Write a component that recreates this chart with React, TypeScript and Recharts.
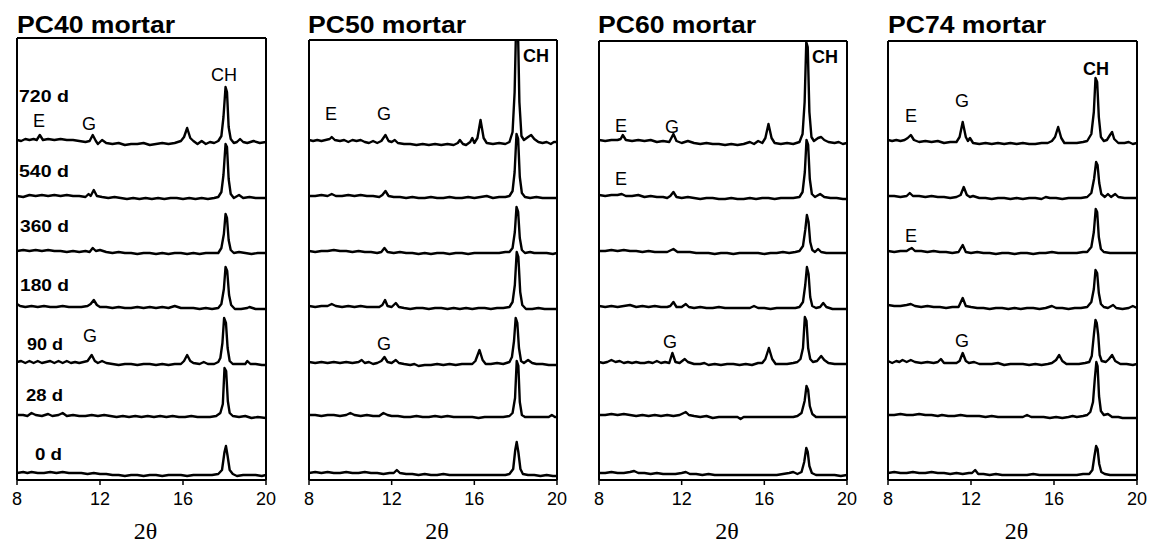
import { LineChart, Line, XAxis, YAxis } from 'recharts';

type Pt = [number, number];

// curing ages, bottom trace first
const ages = ['0 d', '28 d', '90 d', '180 d', '360 d', '540 d', '720 d'];
// vertical stacking of the patterns (intensity units)
const offsets = [0, 58, 111, 167, 222, 277, 332];
const xTicks = [8, 12, 16, 20];

// ---- PC40 ----
const pc40_720: Pt[] = [[8,2],[8.2,1],[8.4,3],[8.6,2],[8.8,3],[8.95,2],[9.1,7],[9.25,2],[9.5,3],[9.8,2],[10.1,3],[10.4,2],[10.7,2],[11,1],[11.3,0],[11.5,1],[11.65,7],[11.8,1],[11.9,-2],[12.1,2],[12.3,-1],[12.6,-2],[12.9,-1],[13.2,-3],[13.5,-2],[13.8,-2],[14.1,-1],[14.4,-3],[14.7,-2],[15,-1],[15.3,-2],[15.6,-1],[15.9,1],[16.05,5],[16.2,14],[16.35,4],[16.5,1],[16.7,-2],[16.9,1],[17.1,-2],[17.3,0],[17.5,-1],[17.7,1],[17.85,6],[17.95,25],[18.05,55],[18.12,50],[18.2,15],[18.3,3],[18.45,-1],[18.6,0],[18.75,3],[18.9,0],[19.1,-1],[19.4,1],[19.7,-1],[20,0]];
const pc40_540: Pt[] = [[8,1],[8.3,0],[8.6,2],[8.9,1],[9.2,2],[9.5,1],[9.8,2],[10.1,1],[10.4,2],[10.7,1],[11,1],[11.3,0],[11.45,3],[11.55,1],[11.7,7],[11.85,1],[12.1,0],[12.4,-1],[12.7,0],[13,-1],[13.3,-2],[13.6,-1],[13.9,-2],[14.2,-1],[14.5,-2],[14.8,-1],[15.1,-2],[15.4,-1],[15.7,-1],[16,-2],[16.3,-1],[16.6,-2],[16.9,-1],[17.2,-2],[17.5,-1],[17.7,0],[17.85,5],[17.95,22],[18.05,53],[18.12,50],[18.2,18],[18.3,3],[18.45,-1],[18.7,2],[18.9,-1],[19.2,0],[19.5,-1],[19.8,-1],[20,-1]];
const pc40_360: Pt[] = [[8,1],[8.3,2],[8.6,1],[8.9,2],[9.2,1],[9.5,2],[9.8,1],[10.1,1],[10.4,0],[10.7,1],[11,0],[11.3,1],[11.5,0],[11.65,4],[11.8,1],[12,2],[12.3,0],[12.6,-1],[12.9,0],[13.2,-1],[13.5,-1],[13.8,-2],[14.1,-1],[14.4,-1],[14.7,-2],[15,-1],[15.3,-2],[15.6,-1],[15.9,-1],[16.2,-2],[16.5,-1],[16.8,-2],[17.1,-1],[17.4,-1],[17.7,-1],[17.85,4],[17.97,18],[18.05,38],[18.12,34],[18.2,12],[18.3,2],[18.45,-1],[18.7,0],[19,-1],[19.3,-2],[19.6,-1],[20,-1]];
const pc40_180: Pt[] = [[8,3],[8.15,1],[8.4,0],[8.7,1],[9,0],[9.3,1],[9.6,0],[9.9,0],[10.2,1],[10.5,0],[10.8,0],[11.1,0],[11.4,1],[11.55,3],[11.7,7],[11.85,2],[12,0],[12.3,0],[12.6,-1],[12.9,0],[13.2,-1],[13.5,-1],[13.8,0],[14.1,-1],[14.4,0],[14.7,-1],[15,0],[15.3,-1],[15.6,1],[15.9,-1],[16.2,-1],[16.5,-1],[16.8,-2],[17.1,-1],[17.4,-2],[17.7,-1],[17.85,3],[17.97,18],[18.05,40],[18.13,36],[18.22,12],[18.32,2],[18.5,-2],[18.8,-2],[19.1,-1],[19.2,0],[19.5,-2],[19.8,-2],[20,-2]];
const pc40_90: Pt[] = [[8,1],[8.2,2],[8.4,0],[8.6,2],[8.8,0],[9,2],[9.2,0],[9.4,1],[9.6,2],[9.8,0],[10,2],[10.2,0],[10.4,2],[10.6,0],[10.8,1],[11,0],[11.2,1],[11.4,2],[11.6,8],[11.75,2],[11.9,0],[12.1,2],[12.3,0],[12.6,-1],[12.9,-2],[13.2,-1],[13.5,-1],[13.8,-2],[14.1,-1],[14.4,-1],[14.7,-2],[15,-1],[15.3,-2],[15.6,-1],[15.9,-1],[16.05,2],[16.2,8],[16.35,2],[16.5,0],[16.8,-1],[17,1],[17.2,-1],[17.5,-1],[17.7,1],[17.8,5],[17.9,20],[17.98,45],[18.07,40],[18.15,15],[18.25,2],[18.4,-1],[18.7,-1],[19,-1],[19.1,2],[19.25,-1],[19.5,-1],[19.8,-2],[20,-2]];
const pc40_28: Pt[] = [[8,1],[8.3,1],[8.5,0],[8.7,3],[8.9,1],[9.2,0],[9.5,2],[9.7,0],[10,1],[10.2,3],[10.4,0],[10.7,1],[11,0],[11.3,0],[11.6,1],[11.9,0],[12.2,1],[12.5,0],[12.8,-1],[13.1,0],[13.4,-1],[13.7,0],[14,-1],[14.3,0],[14.6,-1],[14.9,0],[15.2,-1],[15.5,0],[15.8,-1],[16.1,-1],[16.4,0],[16.7,-1],[17,-1],[17.3,-1],[17.6,0],[17.8,3],[17.92,12],[18,48],[18.08,45],[18.16,15],[18.25,3],[18.4,0],[18.7,-1],[19,0],[19.3,-2],[19.6,-1],[20,-2]];
const pc40_0: Pt[] = [[8,1],[8.3,2],[8.5,1],[8.7,2],[9,1],[9.3,1],[9.6,2],[9.9,1],[10.2,2],[10.5,1],[10.8,1],[11.1,1],[11.4,0],[11.7,1],[12,0],[12.3,0],[12.6,-1],[12.9,-1],[13.2,-2],[13.5,-1],[13.8,-1],[14.1,-2],[14.4,-1],[14.7,-1],[15,-2],[15.3,-1],[15.6,-1],[15.9,-1],[16.2,-2],[16.5,-1],[16.8,-1],[17.1,-1],[17.4,-1],[17.7,0],[17.88,4],[18,22],[18.07,28],[18.15,18],[18.25,4],[18.4,0],[18.6,-2],[18.9,-1],[19.2,-1],[19.5,-1],[19.8,-2],[20,-1]];

// ---- PC50 ----
const pc50_720: Pt[] = [[8,2],[8.2,1],[8.4,2],[8.6,1],[8.8,2],[9,3],[9.1,5],[9.25,2],[9.5,1],[9.7,2],[9.9,0],[10.1,2],[10.3,1],[10.5,2],[10.7,0],[10.9,-1],[11.1,1],[11.3,-1],[11.5,1],[11.7,7],[11.85,1],[12,0],[12.15,2],[12.3,-1],[12.6,-2],[12.9,-2],[13.2,-3],[13.5,-2],[13.8,-3],[14.1,-2],[14.4,-3],[14.7,-2],[15,-3],[15.2,-1],[15.3,2],[15.45,-2],[15.6,-3],[15.8,0],[15.9,4],[16,-1],[16.15,4],[16.3,22],[16.45,4],[16.6,-1],[16.9,-2],[17.2,-1],[17.5,-2],[17.7,0],[17.85,10],[17.95,50],[18.03,125],[18.1,125],[18.18,40],[18.28,6],[18.4,2],[18.6,5],[18.75,7],[18.9,3],[19.1,0],[19.3,-1],[19.5,0],[19.7,-2],[19.85,0],[20,0]];
const pc50_540: Pt[] = [[8,1],[8.3,1],[8.6,2],[8.9,1],[9.1,3],[9.3,1],[9.6,1],[9.9,2],[10.2,1],[10.5,2],[10.8,1],[11.1,1],[11.4,0],[11.55,2],[11.7,6],[11.85,1],[12.1,0],[12.4,0],[12.7,-1],[13,0],[13.3,-1],[13.6,-1],[13.9,0],[14.2,-1],[14.5,-1],[14.8,0],[15.1,-1],[15.4,-1],[15.7,0],[16,-1],[16.3,0],[16.6,1],[16.9,-1],[17.2,0],[17.5,0],[17.7,1],[17.85,6],[17.95,25],[18.04,63],[18.12,58],[18.2,20],[18.3,4],[18.45,0],[18.7,-1],[19,0],[19.3,-1],[19.6,-1],[20,-1]];
const pc50_360: Pt[] = [[8,1],[8.3,0],[8.6,1],[8.9,1],[9.2,2],[9.5,1],[9.8,1],[10.1,0],[10.4,1],[10.7,0],[11,0],[11.3,-1],[11.5,0],[11.65,4],[11.8,0],[12.1,-1],[12.4,0],[12.7,-1],[13,-1],[13.3,-2],[13.6,-1],[13.9,-2],[14.2,-1],[14.5,-1],[14.8,-2],[15.1,-1],[15.4,-1],[15.7,-2],[16,-1],[16.3,-1],[16.6,-1],[16.9,-1],[17.2,-1],[17.5,0],[17.7,0],[17.85,4],[17.96,20],[18.04,45],[18.12,40],[18.2,14],[18.3,2],[18.45,-1],[18.7,0],[18.9,-1],[19.2,-1],[19.5,-1],[19.8,-2],[20,-1]];
const pc50_180: Pt[] = [[8,1],[8.3,0],[8.6,1],[8.9,1],[9.1,3],[9.3,1],[9.6,0],[9.9,1],[10.2,0],[10.5,1],[10.8,0],[11.1,0],[11.4,0],[11.55,2],[11.68,7],[11.8,1],[12,0],[12.2,4],[12.35,0],[12.6,-1],[12.9,-2],[13.2,-1],[13.5,-1],[13.8,-2],[14.1,-1],[14.4,-1],[14.7,-2],[15,-1],[15.3,-2],[15.6,-1],[15.9,-2],[16.2,-1],[16.5,-1],[16.8,-2],[17.1,-1],[17.4,-1],[17.7,0],[17.85,5],[17.96,22],[18.05,55],[18.13,50],[18.22,15],[18.32,2],[18.5,-2],[18.8,-2],[19.1,-1],[19.4,-2],[19.7,-2],[20,-2]];
const pc50_90: Pt[] = [[8,1],[8.3,0],[8.6,1],[8.9,0],[9.2,1],[9.5,0],[9.8,1],[10.1,0],[10.4,1],[10.55,3],[10.7,0],[10.9,1],[11.1,-1],[11.3,0],[11.5,2],[11.65,6],[11.8,1],[12,0],[12.2,3],[12.35,0],[12.6,-1],[12.9,-2],[13.1,-1],[13.3,-3],[13.6,-2],[13.9,-2],[14.2,-1],[14.5,-2],[14.8,-1],[15.1,-2],[15.4,-1],[15.7,-1],[15.9,-1],[16.05,2],[16.25,13],[16.4,3],[16.55,-1],[16.8,-1],[17.1,0],[17.4,-1],[17.7,1],[17.82,6],[17.92,22],[18,45],[18.08,40],[18.16,15],[18.26,2],[18.4,0],[18.6,3],[18.8,0],[19,-1],[19.3,-1],[19.6,-2],[20,-2]];
const pc50_28: Pt[] = [[8,1],[8.3,1],[8.6,0],[8.9,1],[9.2,1],[9.5,0],[9.8,1],[10,3],[10.2,1],[10.5,0],[10.8,1],[11.1,0],[11.4,0],[11.6,3],[11.8,1],[12,0],[12.3,0],[12.6,-1],[12.9,-1],[13.2,0],[13.5,-1],[13.8,-1],[14.1,0],[14.4,-1],[14.7,0],[15,-1],[15.3,-1],[15.6,-1],[15.9,-1],[16.2,-2],[16.5,-1],[16.8,-1],[17.1,-1],[17.4,-1],[17.7,0],[17.85,3],[17.97,18],[18.05,55],[18.13,50],[18.2,14],[18.3,1],[18.45,-1],[18.7,-1],[19,-1],[19.3,-1],[19.6,-1],[19.75,1],[19.9,-1],[20,-1]];
const pc50_0: Pt[] = [[8,1],[8.3,2],[8.6,1],[8.9,2],[9.2,1],[9.5,1],[9.8,2],[10.1,1],[10.4,1],[10.7,2],[11,1],[11.3,1],[11.6,0],[11.9,1],[12.1,1],[12.25,4],[12.4,1],[12.7,0],[13,0],[13.3,-1],[13.6,0],[13.9,-1],[14.2,-1],[14.5,0],[14.8,-1],[15.1,-1],[15.4,-1],[15.7,-1],[16,-1],[16.3,-1],[16.6,-1],[16.9,-1],[17.2,-1],[17.5,-1],[17.7,0],[17.88,5],[17.98,24],[18.05,32],[18.13,22],[18.23,5],[18.35,0],[18.6,-1],[18.9,-1],[19.2,-2],[19.5,-1],[19.8,-2],[20,-2]];

// ---- PC60 ----
const pc60_720: Pt[] = [[8,2],[8.3,1],[8.6,2],[8.9,2],[9.05,3],[9.15,7],[9.3,2],[9.6,1],[9.9,2],[10.2,1],[10.5,2],[10.8,0],[11.1,1],[11.4,0],[11.6,8],[11.75,1],[12,-1],[12.3,1],[12.6,-1],[12.9,-2],[13.2,-1],[13.5,-2],[13.8,-2],[14.1,-3],[14.4,-2],[14.7,-3],[15,-2],[15.3,0],[15.5,-2],[15.7,1],[15.9,-1],[16.05,4],[16.2,18],[16.35,4],[16.5,-1],[16.8,-2],[17.1,-1],[17.4,-2],[17.7,0],[17.85,8],[17.95,40],[18.03,100],[18.1,95],[18.18,30],[18.28,5],[18.4,1],[18.6,4],[18.75,5],[18.9,2],[19.1,0],[19.4,-1],[19.6,0],[19.8,-2],[20,-1]];
const pc60_540: Pt[] = [[8,2],[8.3,1],[8.6,2],[8.9,2],[9.1,3],[9.3,1],[9.6,1],[9.9,2],[10.2,0],[10.5,1],[10.8,0],[11.1,0],[11.3,-1],[11.45,1],[11.6,5],[11.75,0],[12,-1],[12.3,0],[12.6,-1],[12.9,-2],[13.2,-1],[13.5,-1],[13.8,-2],[14.1,-2],[14.4,-1],[14.7,-2],[15,-2],[15.3,-1],[15.6,-2],[15.9,-1],[16.2,-1],[16.5,-2],[16.8,-1],[17.1,-1],[17.4,-1],[17.7,0],[17.85,5],[17.96,25],[18.04,57],[18.12,52],[18.2,18],[18.3,3],[18.45,0],[18.7,3],[18.9,0],[19.2,-1],[19.5,-1],[19.8,-2],[20,-2]];
const pc60_360: Pt[] = [[8,1],[8.3,1],[8.6,2],[8.9,1],[9.2,2],[9.5,1],[9.8,1],[10.1,0],[10.4,1],[10.7,0],[11,0],[11.3,0],[11.6,3],[11.8,0],[12.1,0],[12.4,0],[12.7,-1],[13,-1],[13.3,-1],[13.6,-2],[13.9,-1],[14.2,-1],[14.5,-2],[14.8,-1],[15.1,-1],[15.4,-1],[15.7,-1],[16,-2],[16.3,-1],[16.6,-1],[16.9,0],[17.2,-1],[17.5,0],[17.7,1],[17.87,6],[17.98,22],[18.06,37],[18.14,30],[18.22,10],[18.32,2],[18.45,0],[18.6,3],[18.75,0],[19,-1],[19.3,-1],[19.6,-1],[20,-1]];
const pc60_180: Pt[] = [[8,1],[8.3,0],[8.6,1],[8.9,0],[9.2,1],[9.5,2],[9.8,0],[10.1,1],[10.4,0],[10.7,1],[11,0],[11.3,0],[11.45,1],[11.6,5],[11.75,0],[12,0],[12.2,3],[12.35,0],[12.6,-1],[12.9,0],[13.2,-1],[13.5,-1],[13.8,0],[14.1,-1],[14.4,-1],[14.7,-1],[15,-1],[15.3,-1],[15.5,1],[15.7,-1],[16,-1],[16.3,-2],[16.6,-1],[16.9,-1],[17.2,-1],[17.5,-1],[17.7,0],[17.87,5],[17.98,22],[18.06,40],[18.14,33],[18.22,10],[18.32,1],[18.5,-1],[18.7,0],[18.85,4],[19,0],[19.3,-2],[19.6,-2],[20,-2]];
const pc60_90: Pt[] = [[8,1],[8.2,0],[8.4,1],[8.6,3],[8.8,1],[9,2],[9.2,0],[9.4,1],[9.6,0],[9.8,1],[10,0],[10.2,0],[10.4,1],[10.6,0],[10.8,2],[11,0],[11.2,1],[11.4,0],[11.55,10],[11.7,1],[11.9,0],[12.15,4],[12.3,1],[12.6,-1],[12.9,-1],[13.1,0],[13.3,-2],[13.6,-1],[13.9,-2],[14.2,-1],[14.5,-1],[14.8,-2],[15.1,-1],[15.4,-2],[15.7,0],[15.9,0],[16.05,4],[16.22,15],[16.38,4],[16.55,-1],[16.8,-1],[17.1,-1],[17.4,0],[17.6,1],[17.75,4],[17.87,15],[17.96,46],[18.04,42],[18.12,15],[18.22,4],[18.35,1],[18.55,2],[18.75,7],[18.9,3],[19.1,0],[19.4,-1],[19.7,-1],[20,-1]];
const pc60_28: Pt[] = [[8,1],[8.3,1],[8.6,2],[8.9,1],[9.2,2],[9.5,1],[9.8,0],[10.1,1],[10.4,0],[10.7,1],[11,0],[11.3,1],[11.6,0],[11.9,1],[12.2,4],[12.35,1],[12.6,0],[12.9,-1],[13.2,0],[13.5,-2],[13.8,-1],[14.1,-1],[14.4,-1],[14.7,-1],[14.85,-3],[15,-1],[15.3,-1],[15.6,-1],[15.9,-1],[16.2,-1],[16.5,-1],[16.8,-1],[17.1,-1],[17.4,-1],[17.6,0],[17.8,3],[17.95,15],[18.04,30],[18.12,26],[18.2,10],[18.32,2],[18.5,-1],[18.8,-1],[19.1,-1],[19.4,-1],[19.7,-1],[20,-1]];
const pc60_0: Pt[] = [[8,1],[8.3,1],[8.6,2],[8.9,1],[9.2,1],[9.5,2],[9.7,3],[9.9,1],[10.2,1],[10.5,0],[10.8,1],[11.1,0],[11.4,0],[11.7,0],[12,1],[12.2,2],[12.4,0],[12.7,0],[13,-1],[13.3,0],[13.6,-1],[13.9,-1],[14.2,-1],[14.5,-1],[14.8,-1],[15.1,-1],[15.4,-1],[15.7,-1],[16,-1],[16.3,-1],[16.6,-1],[16.9,0],[17.2,1],[17.4,2],[17.6,0],[17.8,2],[17.93,12],[18.03,26],[18.1,22],[18.18,8],[18.3,1],[18.5,-1],[18.8,-1],[19.1,-1],[19.4,-1],[19.7,-2],[20,-1]];

// ---- PC74 ----
const pc74_720: Pt[] = [[8,2],[8.2,1],[8.4,2],[8.6,1],[8.8,2],[8.95,4],[9.1,7],[9.25,2],[9.5,0],[9.8,1],[10.1,0],[10.4,1],[10.7,-1],[11,0],[11.3,0],[11.45,5],[11.6,20],[11.75,5],[11.85,1],[11.95,4],[12.1,-1],[12.4,-2],[12.7,-1],[13,-2],[13.3,-1],[13.6,-2],[13.9,-1],[14.2,-2],[14.5,-1],[14.8,-2],[15.1,-2],[15.4,-1],[15.7,-1],[15.9,1],[16.05,5],[16.2,15],[16.35,4],[16.5,-1],[16.8,-1],[17.1,-1],[17.4,0],[17.6,1],[17.8,8],[17.92,30],[18,64],[18.08,60],[18.16,25],[18.26,5],[18.4,1],[18.55,2],[18.7,7],[18.8,10],[18.9,3],[19.1,-1],[19.4,-1],[19.6,0],[19.8,-2],[20,-1]];
const pc74_540: Pt[] = [[8,1],[8.3,1],[8.6,0],[8.9,1],[9.05,4],[9.2,1],[9.5,1],[9.8,0],[10.1,1],[10.4,0],[10.7,0],[11,-1],[11.3,0],[11.5,2],[11.65,10],[11.8,2],[11.95,0],[12.1,1],[12.4,-1],[12.7,-1],[13,-2],[13.3,-1],[13.6,-1],[13.9,-2],[14.2,-1],[14.5,-2],[14.8,-1],[15.1,-1],[15.4,-2],[15.6,0],[15.8,-1],[16.1,-1],[16.4,-2],[16.7,-1],[17,-1],[17.3,-1],[17.6,0],[17.8,4],[17.93,18],[18.03,35],[18.1,32],[18.18,14],[18.28,3],[18.45,0],[18.6,3],[18.75,0],[18.95,3],[19.1,0],[19.4,-1],[19.7,-1],[20,-1]];
const pc74_360: Pt[] = [[8,1],[8.3,0],[8.6,1],[8.9,1],[9.05,3],[9.15,4],[9.3,1],[9.6,1],[9.9,0],[10.2,1],[10.5,0],[10.8,0],[11.1,-1],[11.4,0],[11.6,7],[11.75,0],[12,-1],[12.3,0],[12.6,-1],[12.9,-1],[13.2,-2],[13.5,-1],[13.8,-1],[14.1,-2],[14.4,-1],[14.7,-1],[15,-2],[15.3,-1],[15.6,-1],[15.9,0],[16.2,-1],[16.5,-1],[16.8,-1],[17.1,-1],[17.4,0],[17.6,0],[17.8,5],[17.92,20],[18.01,43],[18.08,40],[18.16,15],[18.26,3],[18.4,0],[18.7,-1],[19,-1],[19.3,-1],[19.6,-1],[20,-1]];
const pc74_180: Pt[] = [[8,2],[8.3,1],[8.6,1],[8.9,2],[9.1,3],[9.3,1],[9.6,0],[9.9,1],[10.2,0],[10.5,0],[10.8,-1],[11.1,0],[11.4,0],[11.6,9],[11.75,1],[12,0],[12.3,-1],[12.6,-1],[12.9,-2],[13.2,-1],[13.5,-1],[13.8,-2],[14.1,-1],[14.4,-2],[14.7,-1],[15,-1],[15.3,-2],[15.6,-1],[15.9,1],[16.1,-1],[16.4,-1],[16.7,-2],[17,-1],[17.3,-1],[17.6,0],[17.8,5],[17.92,18],[18,37],[18.08,34],[18.16,14],[18.26,3],[18.4,0],[18.6,-1],[18.85,2],[19,-1],[19.3,-2],[19.6,-1],[19.8,1],[20,-1]];
const pc74_90: Pt[] = [[8,2],[8.2,0],[8.4,2],[8.55,1],[8.7,3],[8.9,1],[9.1,3],[9.3,1],[9.6,0],[9.9,1],[10.2,0],[10.4,1],[10.55,4],[10.7,0],[11,0],[11.3,0],[11.45,2],[11.6,10],[11.75,2],[11.9,0],[12.15,1],[12.4,-1],[12.7,-1],[13,-1],[13.3,0],[13.6,-2],[13.9,-1],[14.2,-1],[14.5,-1],[14.8,-2],[15.1,-1],[15.4,-2],[15.7,-1],[15.9,0],[16.1,3],[16.25,8],[16.4,2],[16.6,-1],[16.9,-1],[17.2,-1],[17.5,0],[17.7,1],[17.82,7],[17.93,30],[18,43],[18.06,40],[18.13,28],[18.2,8],[18.3,2],[18.5,1],[18.65,4],[18.8,8],[18.95,2],[19.2,-1],[19.5,-1],[19.8,-2],[20,-1]];
const pc74_28: Pt[] = [[8,1],[8.3,1],[8.6,2],[8.9,1],[9.2,1],[9.5,2],[9.8,1],[10.1,1],[10.4,0],[10.6,1],[10.9,0],[11.2,0],[11.5,1],[11.8,0],[12.1,0],[12.4,0],[12.7,-1],[13,0],[13.3,-1],[13.6,-1],[13.9,-1],[14.2,-1],[14.5,-1],[14.7,1],[14.9,-1],[15.2,-1],[15.5,-1],[15.8,-2],[16.1,-1],[16.4,-2],[16.7,-1],[16.9,0],[17.1,-1],[17.4,0],[17.6,1],[17.75,4],[17.88,14],[17.97,38],[18.04,54],[18.1,50],[18.17,20],[18.26,5],[18.4,1],[18.6,2],[18.8,-1],[19.1,-1],[19.3,-2],[19.6,-2],[20,-2]];
const pc74_0: Pt[] = [[8,1],[8.3,2],[8.6,1],[8.9,1],[9.2,2],[9.5,1],[9.8,1],[10.1,2],[10.4,1],[10.7,1],[11,0],[11.3,1],[11.6,0],[11.9,1],[12.05,1],[12.2,4],[12.35,0],[12.6,0],[12.9,-1],[13.2,0],[13.5,-1],[13.8,-1],[14.1,-1],[14.4,-1],[14.7,-1],[15,0],[15.3,-1],[15.6,-1],[15.9,-1],[16.2,-1],[16.5,-1],[16.8,-1],[17.1,-1],[17.4,0],[17.7,0],[17.85,4],[17.95,18],[18.03,28],[18.1,25],[18.18,10],[18.28,2],[18.45,0],[18.7,-1],[19,-1],[19.3,-1],[19.6,-1],[20,-1]];

const pc40 = [pc40_0, pc40_28, pc40_90, pc40_180, pc40_360, pc40_540, pc40_720];
const pc50 = [pc50_0, pc50_28, pc50_90, pc50_180, pc50_360, pc50_540, pc50_720];
const pc60 = [pc60_0, pc60_28, pc60_90, pc60_180, pc60_360, pc60_540, pc60_720];
const pc74 = [pc74_0, pc74_28, pc74_90, pc74_180, pc74_360, pc74_540, pc74_720];

// phase labels: text, x, baseline y, bold
const peakLabels: [string, number, number, boolean][] = [
  ['E', 33, 127, false], ['G', 82, 130, false], ['CH', 211, 81, false], ['G', 83, 342, false],
  ['E', 325, 120, false], ['G', 377, 120, false], ['CH', 523, 62, true], ['G', 377, 350, false],
  ['E', 615, 132, false], ['G', 665, 133, false], ['CH', 812, 63, true], ['E', 615, 185, false], ['G', 663, 348, false],
  ['E', 905, 122, false], ['G', 955, 107, false], ['CH', 1083, 75, true], ['E', 905, 242, false], ['G', 955, 347, false],
];

// age labels on the first panel: x, baseline, width
const ageLabelPos: [number, number, number][] = [
  [35, 460, 27], [26, 401, 37], [27, 350, 36], [20, 291, 49], [20, 232, 49], [19, 177, 50], [19, 102, 50],
];

const panels = [
  { title: 'PC40 mortar', traces: pc40, left: 17, right: 266, top: 38, titleX: 17 },
  { title: 'PC50 mortar', traces: pc50, left: 309, right: 557, top: 40, titleX: 308 },
  { title: 'PC60 mortar', traces: pc60, left: 599, right: 847, top: 41, titleX: 598 },
  { title: 'PC74 mortar', traces: pc74, left: 888, right: 1137, top: 41, titleX: 888 },
];

const BOTTOM = 480;
const H = 547;
const sans = '"Liberation Sans", Arial, sans-serif';
const frame = { stroke: '#000', strokeWidth: 2 };

const Panel = ({ p }: { p: (typeof panels)[number] }) => {
  const w = p.right - p.left;
  const yDomain = [-6, 474 - p.top];
  return (
    <div style={{ position: 'absolute', left: p.left - 10, top: 0 }}>
      <LineChart width={w + 20} height={H} margin={{ top: p.top - 1, right: 9, bottom: H - BOTTOM - 30, left: 9 }}>
        <XAxis
          dataKey="x"
          type="number"
          domain={[8, 20]}
          ticks={xTicks}
          allowDataOverflow
          height={30}
          tickSize={5}
          tickMargin={7}
          axisLine={frame}
          tickLine={{ stroke: '#000', strokeWidth: 1.5 }}
          tick={{ fill: '#000', fontSize: 18, fontFamily: sans }}
        />
        <XAxis xAxisId="top" orientation="top" dataKey="x" type="number" domain={[8, 20]} height={1} tick={false} tickLine={false} axisLine={frame} />
        <YAxis type="number" domain={yDomain} allowDataOverflow width={1} tick={false} tickLine={false} axisLine={frame} />
        <YAxis yAxisId="r" orientation="right" type="number" domain={yDomain} width={1} tick={false} tickLine={false} axisLine={frame} />
        {p.traces.map((t, i) => (
          <Line
            key={ages[i]}
            data={t.map(([x, y]) => ({ x, y: y + offsets[i] }))}
            dataKey="y"
            type="linear"
            stroke="#000"
            strokeWidth={2.4}
            strokeLinejoin="round"
            dot={false}
            activeDot={false}
            isAnimationActive={false}
          />
        ))}
      </LineChart>
    </div>
  );
};

export default function App() {
  return (
    <div style={{ position: 'absolute', left: 0, top: 0, width: 1160, height: H, background: '#fff' }}>
      {panels.map((p) => (
        <Panel key={p.title} p={p} />
      ))}
      <svg width={1160} height={H} style={{ position: 'absolute', left: 0, top: 0, pointerEvents: 'none' }}>
        {panels.map((p) => (
          <text key={p.title} x={p.titleX} y={33} fontFamily={sans} fontWeight="bold" fontSize={23} textLength={158} lengthAdjust="spacingAndGlyphs" fill="#000">
            {p.title}
          </text>
        ))}
        {panels.map((p) => (
          <text key={p.title + 'x'} x={(p.left + p.right) / 2 + 4} y={539} fontFamily='"Liberation Serif", "DejaVu Serif", serif' fontSize={24} textAnchor="middle" fill="#000">
            2θ
          </text>
        ))}
        {ages.map((a, i) => (
          <text key={a} x={ageLabelPos[i][0]} y={ageLabelPos[i][1]} fontFamily={sans} fontWeight="bold" fontSize={17} textLength={ageLabelPos[i][2]} lengthAdjust="spacingAndGlyphs" fill="#000">
            {a}
          </text>
        ))}
        {peakLabels.map(([t, x, y, b], i) => (
          <text key={i} x={x} y={y} fontFamily={sans} fontWeight={b ? 'bold' : 'normal'} fontSize={18} fill="#000">
            {t}
          </text>
        ))}
      </svg>
    </div>
  );
}
